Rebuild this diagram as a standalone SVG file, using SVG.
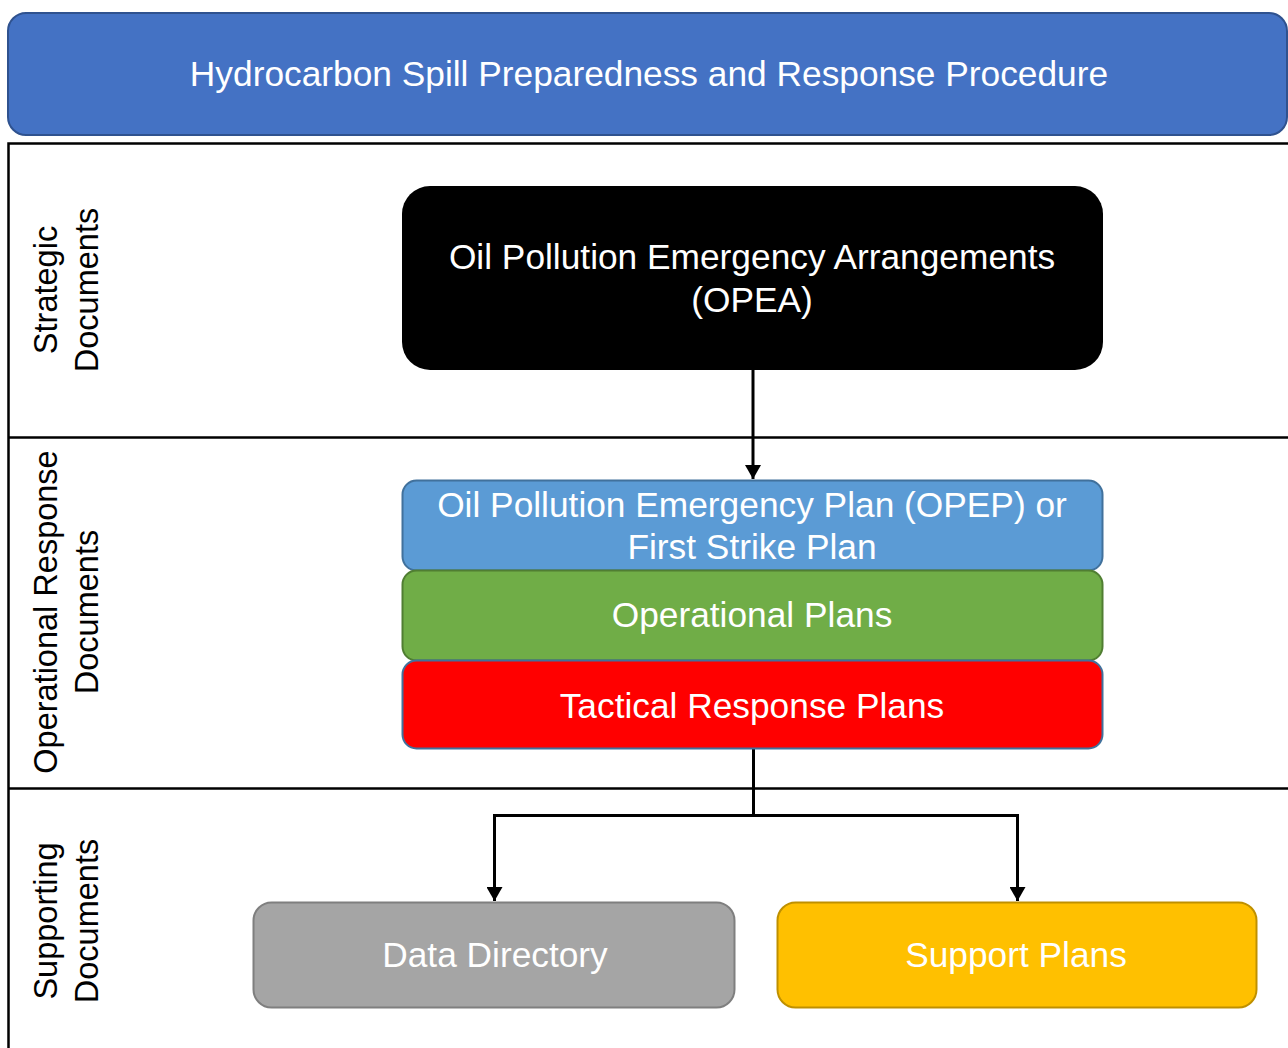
<svg xmlns="http://www.w3.org/2000/svg" width="1288" height="1048" viewBox="0 0 1288 1048">
  <defs>
    <marker id="arrow" viewBox="0 0 14 16" refX="14" refY="8" markerWidth="14" markerHeight="16" markerUnits="userSpaceOnUse" orient="auto">
      <path d="M0,0 L14,8 L0,16 Z" fill="#000"/>
    </marker>
    <style>
      text { font-family: "Liberation Sans", Arial, sans-serif; }
      .lbl { font-size: 35.3px; fill: #ffffff; text-anchor: middle; }
      .side { font-size: 32.5px; fill: #000000; text-anchor: middle; }
      .grid { stroke: #000; stroke-width: 2.5; fill: none; }
      .conn { stroke: #000; stroke-width: 3; fill: none; }
    </style>
  </defs>
  <rect width="1288" height="1048" fill="#ffffff"/>

  <!-- title banner -->
  <g id="title">
    <rect x="8" y="13" width="1279" height="122" rx="18" fill="#4472C4" stroke="#2F528F" stroke-width="2"/>
    <text class="lbl" x="649" y="86">Hydrocarbon Spill Preparedness and Response Procedure</text>
  </g>

  <!-- swimlane frame -->
  <g id="lanes">
    <path class="grid" d="M1290,143.5 H8.5 V1050"/>
    <path class="grid" d="M8.5,437.5 H1290"/>
    <path class="grid" d="M8.5,788.5 H1290"/>
    <g id="lane-strategic">
      <text class="side" transform="translate(57,290) rotate(-90)">Strategic</text>
      <text class="side" transform="translate(98,290) rotate(-90)">Documents</text>
    </g>
    <g id="lane-operational">
      <text class="side" transform="translate(57,612) rotate(-90)">Operational Response</text>
      <text class="side" transform="translate(98,612) rotate(-90)">Documents</text>
    </g>
    <g id="lane-supporting">
      <text class="side" transform="translate(57,921) rotate(-90)">Supporting</text>
      <text class="side" transform="translate(98,921) rotate(-90)">Documents</text>
    </g>
  </g>

  <!-- connectors -->
  <g id="connectors">
    <path class="conn" d="M753,370 V479" marker-end="url(#arrow)"/>
    <path class="conn" d="M753.5,749 V815.5 H494.5 V901" marker-end="url(#arrow)"/>
    <path class="conn" d="M753.5,815.5 H1017.5 V901" marker-end="url(#arrow)"/>
  </g>

  <!-- nodes -->
  <g id="opea">
    <rect x="402" y="186" width="701" height="184" rx="28" fill="#000000"/>
    <text class="lbl" x="752" y="269">Oil Pollution Emergency Arrangements</text>
    <text class="lbl" x="752" y="312">(OPEA)</text>
  </g>
  <g id="opep">
    <rect x="402.5" y="480.5" width="700" height="90" rx="14" fill="#5B9BD5" stroke="#41719C" stroke-width="2"/>
    <text class="lbl" x="752" y="517">Oil Pollution Emergency Plan (OPEP) or</text>
    <text class="lbl" x="752" y="559">First Strike Plan</text>
  </g>
  <g id="operational-plans">
    <rect x="402.5" y="570.5" width="700" height="90" rx="14" fill="#70AD47" stroke="#507E32" stroke-width="2"/>
    <text class="lbl" x="752" y="627">Operational Plans</text>
  </g>
  <g id="tactical-plans">
    <rect x="402.5" y="660.5" width="700" height="88" rx="14" fill="#FF0000" stroke="#41719C" stroke-width="2"/>
    <text class="lbl" x="752" y="718">Tactical Response Plans</text>
  </g>
  <g id="data-directory">
    <rect x="253.5" y="902.5" width="481" height="105" rx="18" fill="#A5A5A5" stroke="#7F7F7F" stroke-width="2"/>
    <text class="lbl" x="495" y="967">Data Directory</text>
  </g>
  <g id="support-plans">
    <rect x="777.5" y="902.5" width="479" height="105" rx="18" fill="#FFC000" stroke="#BF9000" stroke-width="2"/>
    <text class="lbl" x="1016" y="967">Support Plans</text>
  </g>
</svg>
